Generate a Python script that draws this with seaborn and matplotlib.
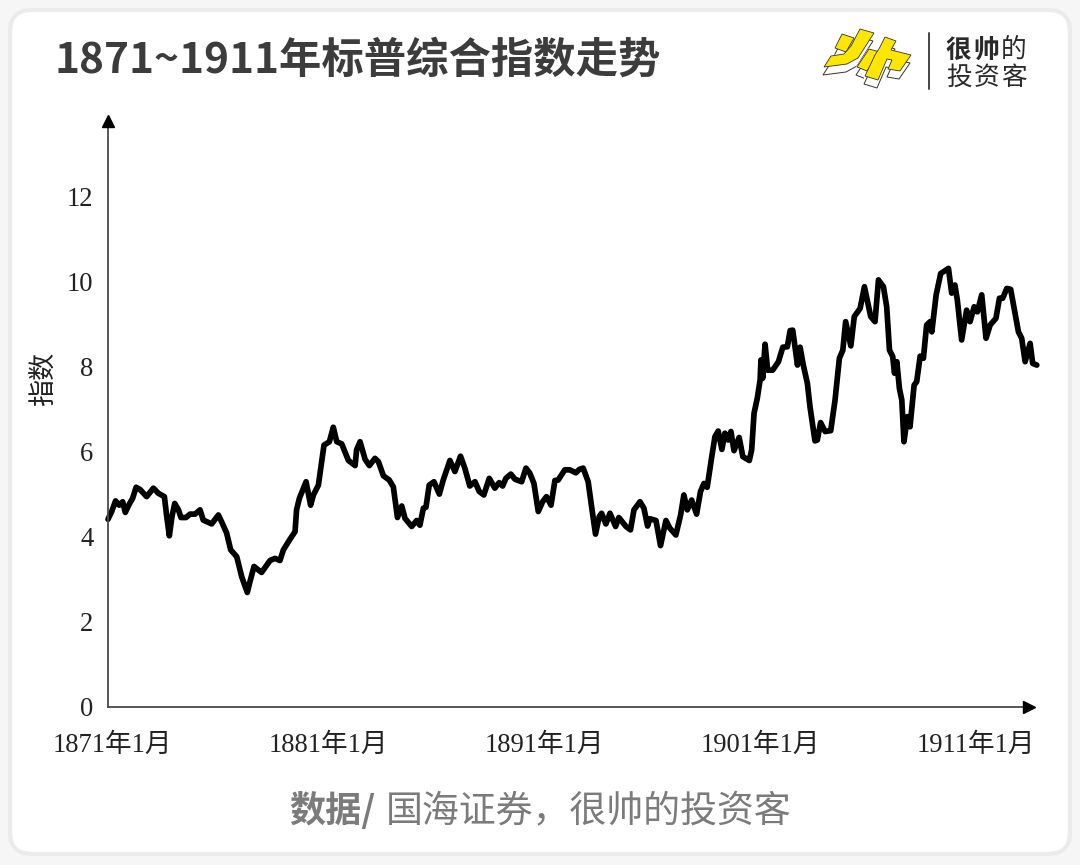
import matplotlib
matplotlib.use("Agg")
import matplotlib.pyplot as plt
from matplotlib.patches import FancyBboxPatch, Polygon
from matplotlib.transforms import ScaledTranslation
import pandas as pd
import seaborn as sns

# Years elapsed since January 1871
years_since_start = [
    0.00, 0.17, 0.35, 0.52, 0.68, 0.80, 0.99, 1.14, 1.30, 1.48, 1.79, 2.10, 2.33, 2.61, 2.72, 2.84,
    2.96, 3.09, 3.26, 3.38, 3.61, 3.80, 4.03, 4.26, 4.41, 4.80, 5.11, 5.26, 5.49, 5.68, 5.96, 6.19,
    6.30, 6.45, 6.57, 6.76, 7.11, 7.50, 7.73, 7.96, 8.12, 8.35, 8.66, 8.73, 8.86, 9.17, 9.38, 9.51,
    9.74, 10.00, 10.25, 10.43, 10.59, 10.82, 11.13, 11.44, 11.51, 11.67, 11.90, 12.10, 12.36, 12.52,
    12.75, 13.02, 13.21, 13.40, 13.60, 13.75, 14.06, 14.29, 14.44, 14.60, 14.72, 14.87, 15.09, 15.34,
    15.52, 15.83, 16.06, 16.32, 16.52, 16.75, 16.99, 17.19, 17.40, 17.65, 17.91, 18.11, 18.27, 18.42,
    18.65, 18.84, 19.15, 19.35, 19.53, 19.72, 19.92, 20.12, 20.30, 20.51, 20.69, 20.84, 21.15, 21.38,
    21.66, 21.82, 22.00, 22.23, 22.39, 22.57, 22.74, 22.85, 23.05, 23.24, 23.50, 23.65, 23.98, 24.19,
    24.35, 24.63, 24.81, 24.98, 25.09, 25.37, 25.58, 25.83, 26.01, 26.29, 26.51, 26.66, 26.82, 27.02,
    27.25, 27.43, 27.59, 27.74, 27.94, 28.10, 28.25, 28.42, 28.56, 28.71, 28.84, 28.98, 29.22, 29.39,
    29.69, 29.80, 29.91, 30.06, 30.19, 30.23, 30.31, 30.42, 30.54, 30.77, 31.04, 31.24, 31.45, 31.58,
    31.70, 31.92, 32.04, 32.19, 32.38, 32.50, 32.73, 32.84, 32.99, 33.20, 33.46, 33.66, 33.86, 34.02,
    34.15, 34.39, 34.55, 34.82, 35.02, 35.31, 35.51, 35.67, 35.90, 36.05, 36.18, 36.33, 36.41, 36.52,
    36.64, 36.75, 36.85, 37.01, 37.13, 37.32, 37.44, 37.60, 37.75, 37.90, 38.06, 38.14, 38.34, 38.55,
    38.91, 39.06, 39.21, 39.32, 39.52, 39.75, 39.91, 40.10, 40.25, 40.45, 40.65, 40.84, 41.11, 41.27,
    41.42, 41.61, 41.79, 41.99, 42.15, 42.30, 42.46, 42.69, 42.81, 43.00,
]

# S&P composite index level at each of those times
index_level = [
    4.41, 4.59, 4.84, 4.74, 4.82, 4.57, 4.77, 4.90, 5.16, 5.11, 4.94, 5.14, 5.02, 4.94, 4.47, 4.02,
    4.47, 4.78, 4.63, 4.45, 4.45, 4.53, 4.53, 4.63, 4.39, 4.30, 4.51, 4.35, 4.09, 3.69, 3.53, 3.06,
    2.90, 2.69, 2.94, 3.30, 3.16, 3.44, 3.49, 3.44, 3.69, 3.88, 4.12, 4.63, 4.90, 5.29, 4.74, 4.98,
    5.21, 6.15, 6.23, 6.57, 6.23, 6.18, 5.79, 5.67, 6.04, 6.23, 5.82, 5.67, 5.84, 5.76,
    5.43, 5.33, 5.17, 4.45, 4.72, 4.43, 4.24, 4.38, 4.27, 4.67, 4.69, 5.21, 5.29, 5.00,
    5.33, 5.79, 5.53, 5.89, 5.61, 5.19, 5.29, 5.06, 4.98, 5.37, 5.14, 5.27, 5.19, 5.37,
    5.47, 5.35, 5.29, 5.61, 5.49, 5.25, 4.59, 4.82, 4.94, 4.74, 5.32, 5.33, 5.57, 5.57,
    5.50, 5.58, 5.61, 5.29, 4.70, 4.06, 4.47, 4.55, 4.30, 4.55, 4.24, 4.45, 4.24, 4.16,
    4.63, 4.82, 4.67, 4.25, 4.42, 4.38, 3.79, 4.38, 4.20, 4.04, 4.51, 4.98, 4.63, 4.86,
    4.53, 5.06, 5.25, 5.16, 5.84, 6.35, 6.48, 6.05, 6.43, 6.27, 6.47, 6.02, 6.33, 5.88,
    5.79, 6.04, 6.90, 7.25, 7.68, 8.15, 7.72, 8.52, 7.91, 7.91, 8.11, 8.45, 8.46, 8.84,
    8.85, 8.03, 8.45, 8.03, 7.60, 7.05, 6.25, 6.27, 6.68, 6.47, 6.49, 7.21, 8.19, 8.38,
    9.05, 8.48, 9.17, 9.36, 9.87, 9.17, 9.05, 10.03, 9.87, 9.40, 8.38, 8.23, 7.84, 8.11,
    7.48, 7.21, 6.23, 6.82, 6.58, 7.56, 7.64, 8.24, 8.19, 8.97, 9.05, 8.81, 9.68, 10.18,
    10.30, 9.72, 9.91, 9.56, 8.62, 9.32, 9.05, 9.40, 9.28, 9.68, 8.66, 8.97, 9.13, 9.60,
    9.60, 9.83, 9.81, 9.25, 8.81, 8.66, 8.11, 8.54, 8.07, 8.03,
]

x_ticks = [0, 10, 20, 30, 40]
x_tick_labels = ["1871年1月", "1881年1月", "1891年1月", "1901年1月", "1911年1月"]
y_ticks = [0, 2, 4, 6, 8, 10, 12]

title_text = "1871~1911年标普综合指数走势"
y_label_text = "指数"
source_bold = "数据/"
source_regular = "国海证券，很帅的投资客"

W, H = 1080, 865
CJK = ["Noto Sans CJK SC", "DejaVu Sans"]
SERIF_CJK = ["Liberation Serif", "Noto Sans CJK SC"]
AXIS_COLOR = "#4a4a4a"
TEXT_GREY = "#7b7b7b"
INK = "#2a2a2a"

sns.set_theme(style="white")
plt.rcParams["font.family"] = CJK
plt.rcParams["axes.unicode_minus"] = False

fig = plt.figure(figsize=(W / 100, H / 100), dpi=100, facecolor="#f6f6f6")

# Pixel-addressed layer for the card, header and footer
canvas = fig.add_axes([0, 0, 1, 1], zorder=0)
canvas.set_xlim(0, W)
canvas.set_ylim(H, 0)
canvas.axis("off")
canvas.add_patch(FancyBboxPatch((30, 30), W - 60, H - 61, boxstyle="round,pad=20,rounding_size=22",
                                fc="white", ec="#ebebeb", lw=3))

canvas.text(54, 61, title_text, fontsize=30.5, fontweight="bold", color="#3c3c3c",
            ha="left", va="center")
canvas.text(289, 811, source_bold, fontsize=26, fontweight="bold", color=TEXT_GREY,
            ha="left", va="center")
canvas.text(386, 811, source_regular, fontsize=26.6, color=TEXT_GREY, ha="left", va="center")

# Brand mark: extruded yellow strokes, a divider and a two-line wordmark
strokes = [
    [(842, 34), (854, 38), (846, 52), (835, 48)],
    [(860, 29), (874, 33), (858, 58), (847, 64), (824, 67), (831, 56), (844, 54), (851, 46)],
    [(869, 49), (880, 52), (867, 71), (857, 67)],
    [(885, 37), (896, 41), (891, 50), (911, 55), (900, 71), (888, 69), (892, 60), (887, 59),
     (878, 80), (865, 76), (875, 55), (880, 47)],
]
DEPTH = (-1, 8)
for pts in strokes:
    ring = pts + pts[:1]
    for (x0, y0), (x1, y1) in zip(ring, ring[1:]):
        wall = [(x0, y0), (x1, y1), (x1 + DEPTH[0], y1 + DEPTH[1]), (x0 + DEPTH[0], y0 + DEPTH[1])]
        canvas.add_patch(Polygon(wall, closed=True, fc="white", ec="white", lw=1))
    shifted = [(x + DEPTH[0], y + DEPTH[1]) for x, y in pts]
    canvas.add_patch(Polygon(shifted, closed=True, fc="white", ec="#333333", lw=0.7))
for pts in strokes:
    canvas.add_patch(Polygon(pts, closed=True, fc="#ffe600", ec="#333333", lw=0.6))
canvas.plot([929, 929], [33, 89], color="#444444", lw=1.4)
for x, ch, weight in [(946, "很", "bold"), (973.5, "帅", "bold"), (1001, "的", "normal"),
                      (946, "投", "normal"), (973.5, "资", "normal"), (1001, "客", "normal")]:
    y = 50 if ch in "很帅的" else 78
    canvas.text(x, y, ch, fontsize=18.5, fontweight=weight, color=INK, ha="left", va="center")

# Chart area: origin at pixel (108, 707), 21.6 px per year and 42.58 px per index point
left, right, top, bottom = 108, 1029, 121, 707
ax = fig.add_axes([left / W, 1 - bottom / H, (right - left) / W, (bottom - top) / H], zorder=1)
ax.patch.set_alpha(0)

frame = pd.DataFrame({"years": years_since_start, "level": index_level})
sns.lineplot(data=frame, x="years", y="level", ax=ax, color="black", linewidth=4.1, sort=False,
             estimator=None, errorbar=None, clip_on=False, solid_joinstyle="round",
             solid_capstyle="round")

ax.set_xlim(0, (right - left) / 21.6)
ax.set_ylim(0, (bottom - top) / 42.58)
ax.set_xlabel("")
ax.set_ylabel("")
sns.despine(ax=ax)
for side in ("left", "bottom"):
    ax.spines[side].set_color(AXIS_COLOR)
    ax.spines[side].set_linewidth(1.3)

ax.set_xticks(x_ticks)
ax.set_xticklabels(x_tick_labels, family=SERIF_CJK, fontsize=19.2, color="#222222")
ax.set_yticks(y_ticks)
ax.set_yticklabels(y_ticks, family=SERIF_CJK, fontsize=19.2, color="#222222")
ax.tick_params(axis="both", direction="in", length=6, width=1.0, color=AXIS_COLOR)
ax.tick_params(axis="y", pad=10.5)
ax.tick_params(axis="x", pad=18.5)
shift = ScaledTranslation(3 / 72, 0, fig.dpi_scale_trans)
for lab in ax.get_xticklabels():
    lab.set_transform(lab.get_transform() + shift)

# Arrowheads closing both axes
ax.plot(1, 0, marker=">", ms=8.5, color="black", transform=ax.transAxes, clip_on=False, zorder=5)
ax.plot(0, 1, marker="^", ms=8.5, color="black", transform=ax.transAxes, clip_on=False, zorder=5)

canvas.text(44, 379, y_label_text, rotation=90, fontsize=19.5, color="#222222", ha="center", va="center")

fig.savefig("out.png", dpi=100, facecolor=fig.get_facecolor())
